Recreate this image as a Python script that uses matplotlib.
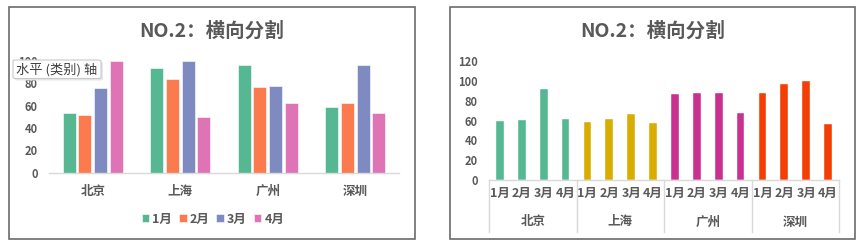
import matplotlib
matplotlib.use("Agg")
import matplotlib.pyplot as plt
import matplotlib.transforms as mtransforms
from matplotlib.patches import Rectangle, FancyBboxPatch
import numpy as np

plt.rcParams['font.family'] = ['Noto Sans CJK SC', 'DejaVu Sans']

# ---- data ----
cities = ['北京', '上海', '广州', '深圳']
months = ['1月', '2月', '3月', '4月']

# left chart: one series per month, values per city
jan = [53, 94, 96, 59]
feb = [52, 84, 77, 62]
mar = [76, 100, 78, 96]
apr = [100, 50, 62, 53]

# right chart: one group per city, values per month
bj = [59, 61, 92, 62]
sh = [58, 62, 67, 57]
gz = [87, 88, 88, 68]
sz = [88, 97, 100, 56]

left_ticks = [0, 20, 40, 60, 80, 100]
right_ticks = [0, 20, 40, 60, 80, 100, 120]

month_colors = ['#55B892', '#FB7A4E', '#7F8BC0', '#DE74B6']
city_colors = ['#55B892', '#D9AD00', '#C93190', '#F43E05']

TEXT = '#595959'
AXIS = '#D9D9D9'

W, H = 865, 248
fig = plt.figure(figsize=(W / 100, H / 100), dpi=100)


def add_axes_px(x0, y0, x1, y1):
    return fig.add_axes([x0 / W, 1 - y1 / H, (x1 - x0) / W, (y1 - y0) / H])


def panel_border(x0, y0, x1, y1):
    fig.patches.append(Rectangle((x0 / W, 1 - y1 / H), (x1 - x0) / W, (y1 - y0) / H,
                                 transform=fig.transFigure, fill=False,
                                 edgecolor='#6b6b6b', linewidth=1.2))


def style_axes(ax):
    for s in ['top', 'right', 'left']:
        ax.spines[s].set_visible(False)
    ax.spines['bottom'].set_color(AXIS)
    ax.spines['bottom'].set_linewidth(1.0)
    ax.tick_params(axis='y', length=0, pad=8, labelsize=8, labelcolor=TEXT)
    for lbl in ax.get_yticklabels():
        lbl.set_fontweight('bold')
    ax.set_facecolor('none')


# ---- left panel ----
panel_border(9, 7, 415, 239)
fig.text(212 / W, 1 - 31 / H, 'NO.2：横向分割', ha='center', va='center',
         fontsize=14, fontweight='bold', color=TEXT)

axL = add_axes_px(49, 61, 399, 172.7)
x = np.arange(len(cities))
slot = 0.18
bw = 0.148
for i, (vals, c, m) in enumerate(zip([jan, feb, mar, apr], month_colors, months)):
    axL.bar(x + (i - 1.5) * slot, vals, width=bw, color=c, label=m,
            edgecolor='white', linewidth=0.4)
axL.set_xlim(-0.5, len(cities) - 0.5)
axL.set_ylim(0, 100)
axL.set_yticks(left_ticks)
axL.set_xticks(x)
axL.set_xticklabels(cities, fontsize=9, fontweight='bold', color=TEXT)
axL.tick_params(axis='x', length=0, pad=9)
style_axes(axL)

leg = fig.legend(*axL.get_legend_handles_labels(), loc='center',
                 bbox_to_anchor=(213 / W, 1 - 219 / H), ncol=4, frameon=False,
                 prop={'size': 9, 'weight': 'bold'}, handlelength=0.6,
                 handleheight=0.6, handletextpad=0.25, columnspacing=0.55)
for t in leg.get_texts():
    t.set_color(TEXT)

# tooltip box over the y axis
tip = FancyBboxPatch((13 / W, 1 - 78.5 / H), 88 / W, 18.5 / H,
                     boxstyle='round,pad=0,rounding_size=0.004',
                     transform=fig.transFigure, facecolor='white',
                     edgecolor='#C8C8C8', linewidth=0.8, zorder=10)
shadow = FancyBboxPatch((15 / W, 1 - 80.5 / H), 88 / W, 18.5 / H,
                        boxstyle='round,pad=0,rounding_size=0.004',
                        transform=fig.transFigure, facecolor='#E6E6E6',
                        edgecolor='none', zorder=9)
fig.patches.extend([shadow, tip])
fig.text(57 / W, 1 - 69.5 / H, '水平 (类别) 轴', ha='center', va='center',
         fontsize=9.5, color='#404040', zorder=11)

# ---- right panel ----
panel_border(450, 7, 855, 239)
fig.text(652.5 / W, 1 - 31 / H, 'NO.2：横向分割', ha='center', va='center',
         fontsize=14, fontweight='bold', color=TEXT)

axR = add_axes_px(489, 61, 839, 180)
groups = [bj, sh, gz, sz]
n = len(months)
xticks = []
for g, (vals, c) in enumerate(zip(groups, city_colors)):
    xs = np.arange(n) + g * n + 0.5
    axR.bar(xs, vals, width=0.35, color=c, edgecolor='white', linewidth=0.3)
    xticks.extend(xs)
axR.set_xlim(0, len(groups) * n)
axR.set_ylim(0, 120)
axR.set_yticks(right_ticks)
axR.set_xticks(xticks)
axR.set_xticklabels(months * len(groups), fontsize=9, fontweight='bold', color=TEXT)
axR.tick_params(axis='x', length=0, pad=5)
style_axes(axR)

trans = mtransforms.blended_transform_factory(axR.transData, axR.transAxes)
axh = 119.0
for b in range(len(groups) + 1):
    axR.plot([b * n, b * n], [0, -52 / axh], transform=trans, color=AXIS,
             linewidth=1.0, clip_on=False)
for g, city in enumerate(cities):
    axR.text(g * n + n / 2, -42 / axh, city, transform=trans, ha='center',
             va='center', fontsize=9, fontweight='bold', color=TEXT)

fig.savefig('out.png', dpi=100)
